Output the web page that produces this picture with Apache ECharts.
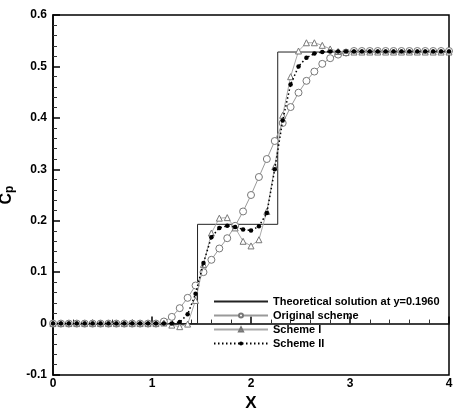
<!DOCTYPE html>
<html>
<head>
<meta charset="utf-8">
<script src="https://cdn.jsdelivr.net/npm/echarts@6/dist/echarts.min.js"></script>
<style>
html, body { margin: 0; padding: 0; background: #fff; }
#canvas { width: 453px; height: 410px; }
</style>
</head>
<body>
<div id="canvas"></div>
<script>
// sample positions along x
var xs = [0, 0.08, 0.16, 0.24, 0.32, 0.40, 0.48, 0.56, 0.64, 0.72,
          0.80, 0.88, 0.96, 1.04, 1.12, 1.20, 1.28, 1.36, 1.44, 1.52,
          1.60, 1.68, 1.76, 1.84, 1.92, 2.00, 2.08, 2.16, 2.24, 2.32,
          2.40, 2.48, 2.56, 2.64, 2.72, 2.80, 2.88, 2.96, 3.04, 3.12,
          3.20, 3.28, 3.36, 3.44, 3.52, 3.60, 3.68, 3.76, 3.84, 3.92, 4.00];

var originalCp = [0, 0, 0, 0, 0, 0, 0, 0, 0, 0,
                  0, 0, 0, 0, 0.004, 0.013, 0.030, 0.050, 0.074, 0.100,
                  0.124, 0.146, 0.166, 0.190, 0.218, 0.250, 0.285, 0.320, 0.355, 0.390,
                  0.421, 0.449, 0.472, 0.490, 0.505, 0.516, 0.523, 0.527, 0.530, 0.530,
                  0.530, 0.530, 0.530, 0.530, 0.530, 0.530, 0.530, 0.530, 0.530, 0.530, 0.530];

var scheme1Cp = [0, 0, 0, 0, 0, 0, 0, 0, 0, 0,
                 0, 0, 0, 0, 0.001, -0.003, -0.006, -0.001, 0.045, 0.115,
                 0.176, 0.205, 0.206, 0.186, 0.160, 0.151, 0.163, 0.218, 0.305, 0.405,
                 0.480, 0.530, 0.546, 0.546, 0.541, 0.534, 0.529, 0.527, 0.528, 0.528,
                 0.528, 0.528, 0.528, 0.528, 0.528, 0.528, 0.528, 0.528, 0.528, 0.528, 0.528];

var scheme2Cp = [0, 0, 0, 0, 0, 0, 0, 0, 0, 0,
                 0, 0, 0, 0, 0, 0, 0.003, 0.018, 0.058, 0.118,
                 0.168, 0.186, 0.190, 0.188, 0.183, 0.181, 0.189, 0.215, 0.300, 0.395,
                 0.465, 0.500, 0.517, 0.525, 0.528, 0.529, 0.529, 0.529, 0.529, 0.529,
                 0.529, 0.529, 0.529, 0.529, 0.529, 0.529, 0.529, 0.529, 0.529, 0.529, 0.529];

// exact step solution
var exactX = [0, 1.46, 1.46, 2.27, 2.27, 4];
var exactCp = [0, 0, 0.193, 0.193, 0.528, 0.528];

var seriesNames = ['Theoretical solution at y=0.1960', 'Original scheme', 'Scheme I', 'Scheme II'];

var pairs = function(x, y) {
    var out = [];
    for (var i = 0; i < x.length; i++) out.push([x[i], y[i]]);
    return out;
};

var font = 'Liberation Sans, Arial, sans-serif';
var myChart = echarts.init(document.getElementById('canvas'));

var option = {
    animation: false,
    grid: {
        left: 53, right: 4, top: 15, bottom: 35,
        containLabel: false,
        outerBoundsMode: 'none',
        show: true,
        borderColor: '#000',
        borderWidth: 1.5
    },
    legend: {
        orient: 'vertical',
        left: 208,
        top: 290,
        itemWidth: 54,
        itemHeight: 5,
        itemGap: 1,
        textStyle: { fontFamily: font, fontWeight: 'bold', fontSize: 11, lineHeight: 13, color: '#000' },
        data: [
            { name: seriesNames[0], itemStyle: { opacity: 0 } },
            seriesNames[1], seriesNames[2], seriesNames[3]
        ]
    },
    xAxis: {
        type: 'value',
        min: 0, max: 4, interval: 1,
        name: 'X',
        nameLocation: 'middle',
        nameGap: 18,
        nameTextStyle: { fontFamily: font, fontWeight: 'bold', fontSize: 17, color: '#000' },
        axisLine: { lineStyle: { color: '#000', width: 1.5 } },
        axisTick: { inside: true, length: 7, lineStyle: { color: '#000', width: 1.5 } },
        minorTick: { show: true, splitNumber: 5, length: 4, lineStyle: { color: '#333' } },
        axisLabel: { fontFamily: font, fontWeight: 'bold', fontSize: 12, color: '#000', margin: 3 },
        splitLine: { show: false }
    },
    yAxis: {
        type: 'value',
        min: -0.1, max: 0.6, interval: 0.1,
        name: '{c|C}{p|p}',
        nameLocation: 'middle',
        nameRotate: 90,
        nameGap: 31,
        nameTextStyle: {
            rich: {
                c: { fontFamily: font, fontWeight: 'bold', fontSize: 16, color: '#000' },
                p: { fontFamily: font, fontWeight: 'bold', fontSize: 12, color: '#000', padding: [6, 0, 0, 0] }
            }
        },
        axisLine: { lineStyle: { color: '#000', width: 1.5 } },
        axisTick: { inside: true, length: 7, lineStyle: { color: '#000', width: 1.5 } },
        minorTick: { show: true, splitNumber: 5, length: 4, lineStyle: { color: '#333' } },
        axisLabel: {
            fontFamily: font, fontWeight: 'bold', fontSize: 12, color: '#000', margin: 6,
            formatter: function(v) { return Math.abs(v) < 1e-9 ? '0' : String(Math.round(v * 10) / 10); }
        },
        splitLine: { show: false }
    },
    series: [
        {
            name: seriesNames[0],
            type: 'line',
            data: pairs(exactX, exactCp),
            symbol: 'none',
            lineStyle: { color: '#222', width: 1 },
            itemStyle: { color: '#222' },
            z: 2
        },
        {
            name: seriesNames[1],
            type: 'line',
            data: pairs(xs, originalCp),
            symbol: 'circle',
            symbolSize: 7,
            lineStyle: { color: '#999', width: 1 },
            itemStyle: { color: '#fff', borderColor: '#777', borderWidth: 1 },
            z: 3
        },
        {
            name: seriesNames[2],
            type: 'line',
            data: pairs(xs, scheme1Cp),
            symbol: 'triangle',
            symbolSize: 6,
            lineStyle: { color: '#aaa', width: 1 },
            itemStyle: { color: '#fff', borderColor: '#777', borderWidth: 1 },
            z: 4
        },
        {
            name: seriesNames[3],
            type: 'line',
            data: pairs(xs, scheme2Cp),
            symbol: 'circle',
            symbolSize: 4.5,
            lineStyle: { color: '#000', width: 1.5, type: [1.5, 2.5] },
            itemStyle: { color: '#000', borderColor: '#000', borderWidth: 0 },
            z: 5
        }
    ]
};
myChart.setOption(option);
</script>
</body>
</html>
